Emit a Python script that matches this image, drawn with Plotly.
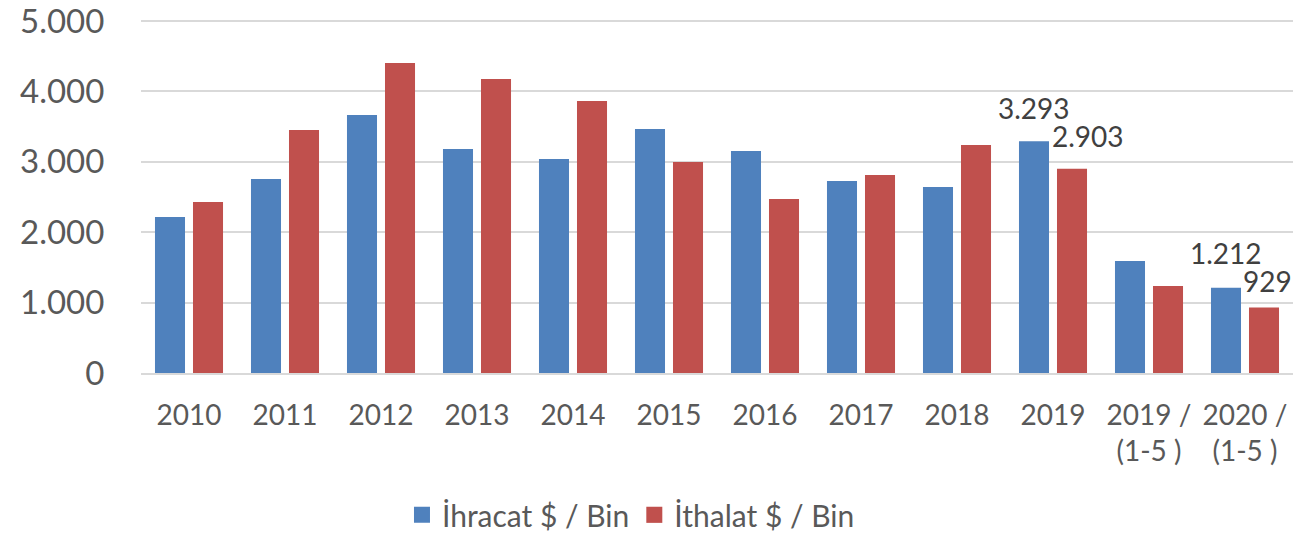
import plotly.graph_objects as go

categories = ["2010", "2011", "2012", "2013", "2014", "2015", "2016", "2017",
              "2018", "2019", "2019 /<br>(1-5 )", "2020 /<br>(1-5 )"]
ihracat = [2216, 2756, 3665, 3182, 3040, 3466, 3153, 2727, 2642, 3293, 1591, 1212]
ithalat = [2429, 3452, 4403, 4176, 3864, 2997, 2472, 2813, 3239, 2903, 1236, 929]
y_ticks = [0, 1000, 2000, 3000, 4000, 5000]
y_tick_text = ["0", "1.000", "2.000", "3.000", "4.000", "5.000"]

# labelled bars: (category index, series, x offset px, y offset px)
labelled = [(9, "ihr", -19, 14), (9, "ith", 35, 14), (11, "ihr", -19, 16), (11, "ith", 22, 8)]

BLUE = "#4F81BD"
RED = "#C0504D"
FONT = "Lato"
NAMES = ["İhracat $ / Bin", "İthalat $ / Bin"]

fig = go.Figure()
fig.add_trace(go.Bar(x=categories, y=ihracat, name=NAMES[0], showlegend=False,
                     marker=dict(color=BLUE, line=dict(width=0))))
fig.add_trace(go.Bar(x=categories, y=ithalat, name=NAMES[1], showlegend=False,
                     marker=dict(color=RED, line=dict(width=0))))

# legend entries with larger square swatches
for name, color in zip(NAMES, [BLUE, RED]):
    fig.add_trace(go.Scatter(x=[None], y=[None], mode="markers", name=name,
                             marker=dict(symbol="square", size=19, color=color)))


def fmt(v):
    return f"{v:,}".replace(",", ".")


for idx, series, dx, dy in labelled:
    val = ihracat[idx] if series == "ihr" else ithalat[idx]
    # category axes position annotations by category index
    fig.add_annotation(x=idx, y=val, text=fmt(val), showarrow=False,
                       xanchor="center", yanchor="bottom", xshift=dx, yshift=dy,
                       font=dict(family=FONT, size=28, color="#404040"))

fig.update_layout(
    width=1293, height=538,
    margin=dict(l=141, r=0, t=7, b=165, autoexpand=False),
    paper_bgcolor="white", plot_bgcolor="white",
    barmode="group", bargap=0.208, bargroupgap=0.21,
    font=dict(family=FONT, color="#595959"),
    showlegend=True,
    legend=dict(orientation="h", xref="container", yref="container",
                x=0.488, xanchor="center", y=0.043, yanchor="middle",
                font=dict(family=FONT, size=30, color="#595959"),
                itemwidth=30, traceorder="normal", tracegroupgap=0,
                bgcolor="rgba(0,0,0,0)"),
    xaxis=dict(type="category", range=[-0.5, 11.5], showgrid=False, showline=True,
               linecolor="#d9d9d9", linewidth=2, automargin=False,
               ticks="outside", ticklen=16, tickcolor="rgba(0,0,0,0)",
               tickfont=dict(family=FONT, size=28, color="#595959")),
    yaxis=dict(range=[0, 5200], tickvals=y_ticks, ticktext=y_tick_text,
               showgrid=True, gridcolor="#d9d9d9", gridwidth=2, zeroline=False,
               showline=False, automargin=False, ticklabeloverflow="allow",
               ticks="outside", ticklen=29, tickcolor="rgba(0,0,0,0)",
               tickfont=dict(family=FONT, size=33, color="#595959")),
)

fig.write_html("out.html")
